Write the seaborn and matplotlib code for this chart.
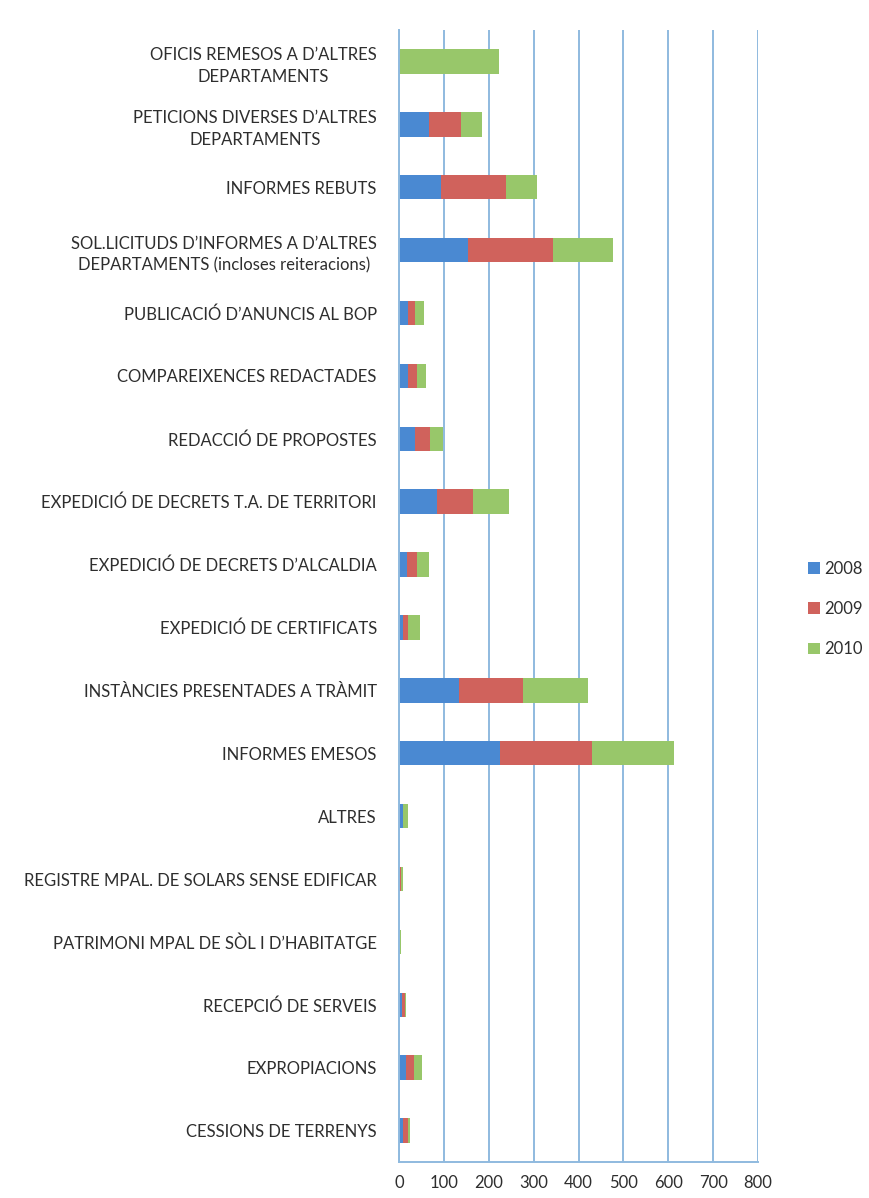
import numpy as np
import pandas as pd
import matplotlib
matplotlib.use("Agg")
import matplotlib.pyplot as plt
from matplotlib.patches import Patch
import seaborn as sns

sns.set_style("white")
plt.rcParams["font.family"] = ["Lato", "DejaVu Sans"]

categories = [
    "OFICIS REMESOS A D\u2019ALTRES\nDEPARTAMENTS",
    "PETICIONS DIVERSES D\u2019ALTRES\nDEPARTAMENTS",
    "INFORMES REBUTS",
    "SOL.LICITUDS D\u2019INFORMES A D\u2019ALTRES\nDEPARTAMENTS (incloses reiteracions)",
    "PUBLICACIÓ D\u2019ANUNCIS AL BOP",
    "COMPAREIXENCES REDACTADES",
    "REDACCIÓ DE PROPOSTES",
    "EXPEDICIÓ DE DECRETS T.A. DE TERRITORI",
    "EXPEDICIÓ DE DECRETS D\u2019ALCALDIA",
    "EXPEDICIÓ DE CERTIFICATS",
    "INSTÀNCIES PRESENTADES A TRÀMIT",
    "INFORMES EMESOS",
    "ALTRES",
    "REGISTRE MPAL. DE SOLARS SENSE EDIFICAR",
    "PATRIMONI MPAL DE SÒL I D\u2019HABITATGE",
    "RECEPCIÓ DE SERVEIS",
    "EXPROPIACIONS",
    "CESSIONS DE TERRENYS",
]
v2008 = [0, 67, 93, 153, 19, 21, 36, 85, 18, 10, 134, 225, 8, 0, 0, 6, 16, 10]
v2009 = [0, 71, 146, 191, 17, 19, 34, 81, 22, 11, 143, 205, 2, 4, 1, 7, 18, 11]
v2010 = [222, 46, 69, 133, 19, 20, 29, 79, 26, 26, 144, 183, 9, 4, 3, 2, 17, 3]
years = ["2008", "2009", "2010"]
colors = ["#4A89D2", "#D0625C", "#98C76A"]

df = pd.DataFrame({"cat": categories, "2008": v2008, "2009": v2009, "2010": v2010})
df["c2008"] = df["2008"]
df["c2009"] = df["2008"] + df["2009"]
df["c2010"] = df["c2009"] + df["2010"]

fig = plt.figure(figsize=(8.69, 11.98), dpi=100)
ax = fig.add_axes([399 / 869, 1 - 1162 / 1198, 359 / 869, 1132 / 1198])

grid_c = "#8FBADF"
# stacked bars: draw cumulative totals from the outermost segment inwards
for yr, col in zip(reversed(years), reversed(colors)):
    sns.barplot(data=df, x="c" + yr, y="cat", color=col, width=0.39,
                saturation=1, edgecolor="none", ax=ax, orient="h")

ax.set_xlim(0, 800)
ax.set_ylim(17.5, -0.5)
ax.set_xticks(range(0, 801, 100))
ax.xaxis.grid(True, color=grid_c, linewidth=1.4)
ax.set_axisbelow(True)
ax.set_xlabel("")
ax.set_ylabel("")

text_c = "#2e2e2e"
ax.set_yticks(range(len(categories)))
ax.set_yticklabels(categories, fontsize=12, color=text_c,
                   multialignment="center", linespacing=1.45)
ax.tick_params(axis="y", length=0, pad=16)
ax.set_yticks(np.arange(-0.5, 17.6, 1), minor=True)
ax.tick_params(axis="y", which="minor", length=5, color=grid_c, width=1.2)
ax.tick_params(axis="x", length=5, color=grid_c, width=1.2, labelsize=12,
               labelcolor=text_c, pad=4)

for s in ["top", "right"]:
    ax.spines[s].set_visible(False)
for s in ["left", "bottom"]:
    ax.spines[s].set_color(grid_c)
    ax.spines[s].set_linewidth(1.4)

handles = [Patch(facecolor=c, edgecolor="none") for c in colors]
fig.legend(handles, years, loc="center left",
           bbox_to_anchor=(808 / 869, 1 - 609 / 1198), frameon=False,
           borderpad=0, borderaxespad=0,
           fontsize=12, handlelength=0.7, handleheight=0.7,
           handletextpad=0.25, labelspacing=1.45, labelcolor=text_c)

fig.savefig("out.png", dpi=100, facecolor="white")
